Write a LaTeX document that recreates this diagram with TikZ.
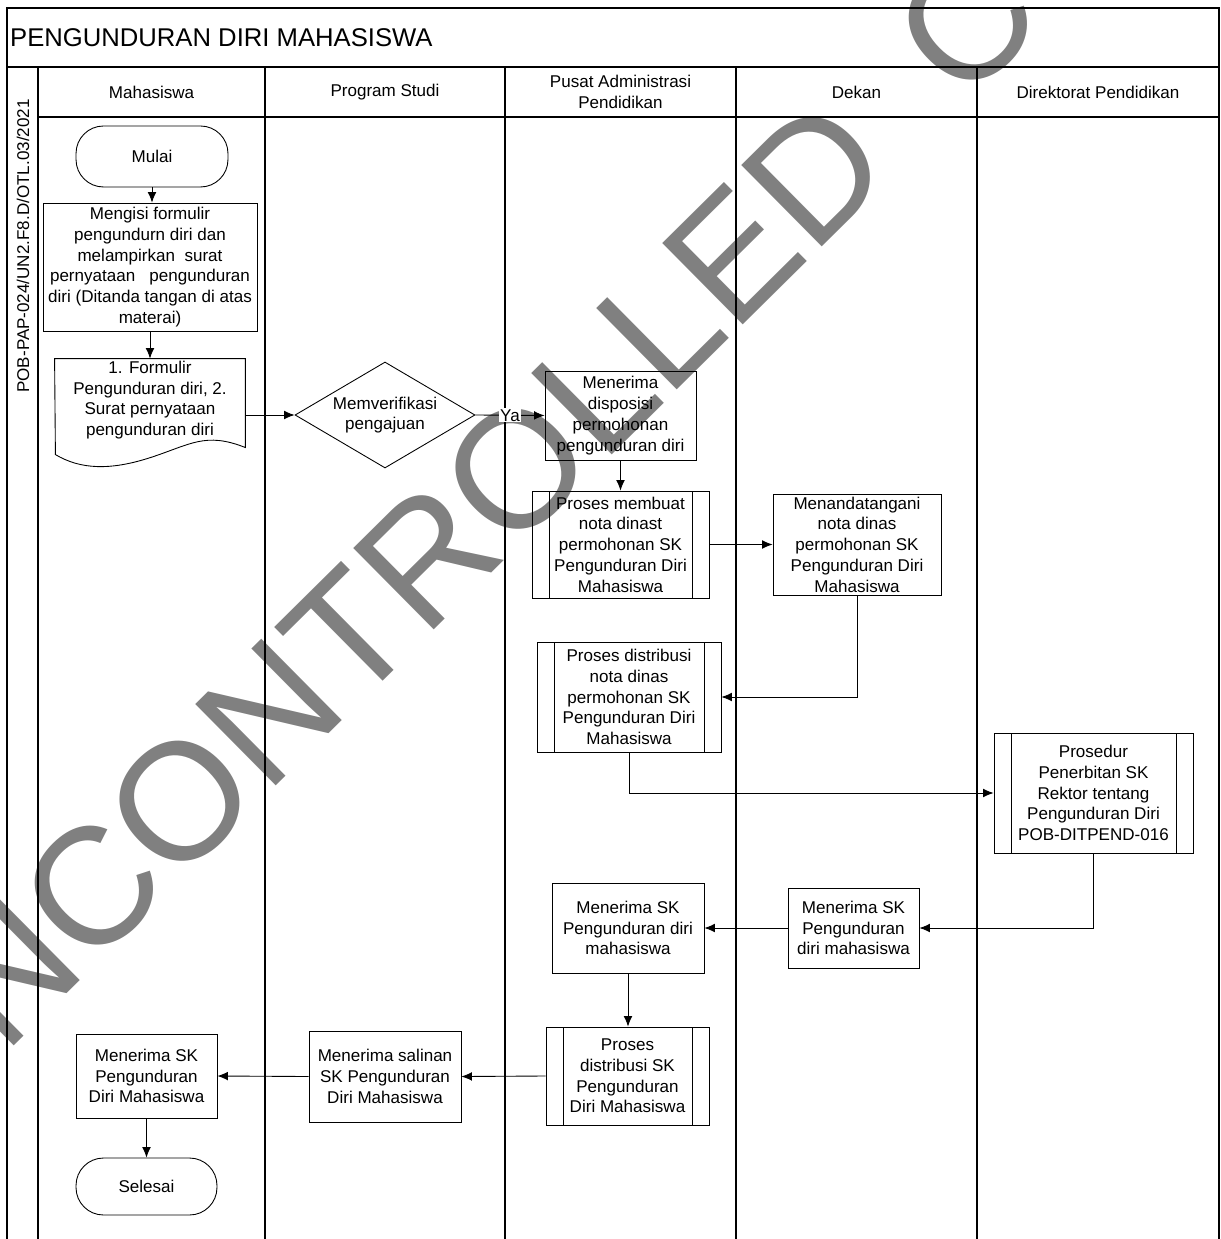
\documentclass[tikz,border=0pt]{standalone}
\usepackage{fontspec}
\setmainfont{Liberation Sans}
\usetikzlibrary{arrows.meta,shapes.geometric,positioning}

\begin{document}
\begin{tikzpicture}[x=0.02cm,y=-0.02cm,>={Latex[length=6pt,width=5pt]},line width=0.5pt,
  every node/.style={font=\fontsize{9.7}{11.8}\selectfont,align=center,inner sep=1pt},
  box/.style={draw,rectangle},
  predef/.style={box,path picture={
    \draw ([xshift=0.34cm]path picture bounding box.north west) -- ([xshift=0.34cm]path picture bounding box.south west);
    \draw ([xshift=-0.34cm]path picture bounding box.north east) -- ([xshift=-0.34cm]path picture bounding box.south east);}},
  terminal/.style={draw,rectangle,rounded corners=0.55cm},
  decision/.style={draw,diamond,aspect=1.7,inner sep=0pt},
  lane/.style={line width=0.8pt}]
\useasboundingbox (0,0) rectangle (1220,1239);

\node[text=black!50,rotate=44.7,inner sep=0pt,font=\fontsize{94.7}{95}\selectfont] (cap) at (568.5,417) {UNCONTROLLED\ \ COPY};

\draw[lane] (7,1239) -- (7,8) -- (1219,8) -- (1219,1239);
\draw[lane] (7,67) -- (1219,67);
\draw[lane] (38,117) -- (1219,117);
\foreach \x in {38,265,505,736,977}
  \draw[lane] (\x,67) -- (\x,1239);

\node[anchor=west,font=\fontsize{14.6}{17}\selectfont] (judul) at (8,38) {PENGUNDURAN DIRI MAHASISWA};
\node[rotate=90] (kode) at (23,246) {POB-PAP-024/UN2.F8.D/OTL.03/2021};
\node (hmhs) at (151.5,92) {Mahasiswa};
\node (hprodi) at (385,92) {Program Studi};
\node (hpap) at (620.5,92) {Pusat Administrasi\\Pendidikan};
\node (hdekan) at (856.5,92) {Dekan};
\node (hdit) at (1098,92) {Direktorat Pendidikan};

\node[terminal,minimum width=3.04cm,minimum height=1.22cm] (mulai) at (152,156.5) {Mulai};
\node[box,minimum width=4.28cm,minimum height=2.56cm] (isi) at (150,267) {Mengisi formulir\\pengundurn diri dan\\melampirkan\ \ surat\\pernyataan\ \ \ pengunduran\\diri (Ditanda tangan di atas\\materai)};
\node[minimum width=3.8cm,minimum height=1.64cm] (dok) at (150,400) {1. Formulir\\Pengunduran diri, 2.\\Surat pernyataan\\pengunduran diri};
\draw (dok.north west) -- (dok.north east) -- ++(0,89) .. controls +(-40,-16) and +(40,-13) .. ++(-95,10) .. controls +(-40,13) and +(25,15) .. ++(-95,-3) -- cycle;
\node[decision,minimum width=3.6cm,minimum height=2.12cm] (verif) at (385,415) {Memverifikasi\\pengajuan};
\node[box,minimum width=3.02cm,minimum height=1.78cm] (disposisi) at (620.5,415.5) {Menerima\\disposisi\\permohonan\\pengunduran diri};
\node[predef,minimum width=3.54cm,minimum height=2.14cm] (buatnota) at (620.5,544.5) {Proses membuat\\nota dinast\\permohonan SK\\Pengunduran Diri\\Mahasiswa};
\node[box,minimum width=3.36cm,minimum height=2.02cm] (ttd) at (857,544.5) {Menandatangani\\nota dinas\\permohonan SK\\Pengunduran Diri\\Mahasiswa};
\node[predef,minimum width=3.68cm,minimum height=2.2cm] (distnota) at (629,697) {Proses distribusi\\nota dinas\\permohonan SK\\Pengunduran Diri\\Mahasiswa};
\node[predef,minimum width=3.98cm,minimum height=2.4cm] (prosedur) at (1093.5,793) {Prosedur\\Penerbitan SK\\Rektor tentang\\Pengunduran Diri\\POB-DITPEND-016};
\node[box,minimum width=2.62cm,minimum height=1.6cm] (skdekan) at (853.5,928) {Menerima SK\\Pengunduran\\diri mahasiswa};
\node[box,minimum width=3.04cm,minimum height=1.8cm] (skpap) at (628,928) {Menerima SK\\Pengunduran diri\\mahasiswa};
\node[predef,minimum width=3.26cm,minimum height=1.96cm] (distsk) at (627.5,1076) {Proses\\distribusi SK\\Pengunduran\\Diri Mahasiswa};
\node[box,minimum width=3.04cm,minimum height=1.82cm] (salinan) at (385,1076.5) {Menerima salinan\\SK Pengunduran\\Diri Mahasiswa};
\node[box,minimum width=2.82cm,minimum height=1.68cm] (skmhs) at (146.5,1076) {Menerima SK\\Pengunduran\\Diri Mahasiswa};
\node[terminal,minimum width=2.82cm,minimum height=1.14cm] (selesai) at (146.5,1186.5) {Selesai};

\draw[->] (mulai.south) -- (mulai.south |- isi.north);
\draw[->] (isi.south) -- (isi.south |- dok.north);
\draw[->] (dok.east |- verif.west) -- (verif.west);
\draw[->] (verif.east) -- (disposisi.west) node[midway,fill=white,inner sep=0.5pt] (ya) {Ya};
\draw[->] (disposisi.south) -- (buatnota.north);
\draw[->] (buatnota.east) -- (ttd.west);
\draw[->] (ttd.south) |- (distnota.east);
\draw[->] (distnota.south) |- (prosedur.west);
\draw[->] (prosedur.south) |- (skdekan.east);
\draw[->] (skdekan.west) -- (skpap.east);
\draw[->] (skpap.south) -- (skpap.south |- distsk.north);
\draw[->] (distsk.west) -- (salinan.east);
\draw[->] (salinan.west) -- (skmhs.east);
\draw[->] (skmhs.south) -- (selesai.north);
\end{tikzpicture}
\end{document}
